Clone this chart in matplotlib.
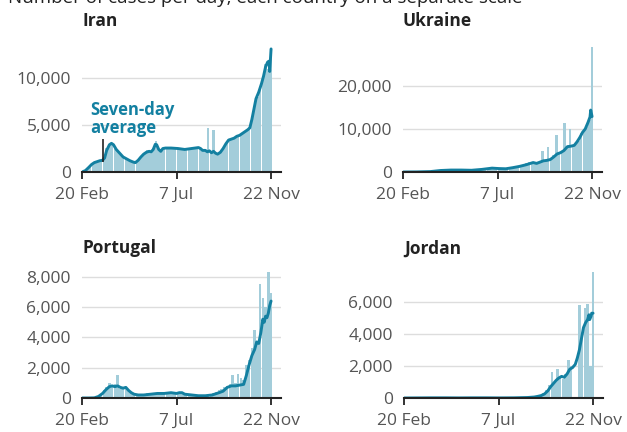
import numpy as np
import matplotlib
matplotlib.use("Agg")
import matplotlib.pyplot as plt

plt.rcParams["font.family"] = ["Open Sans", "DejaVu Sans"]

LINE_COLOR = "#1380A1"
BAR_COLOR = "#A3CDDA"
TEXT_GREY = "#555555"

TITLE = "Number of cases per day, each country on a separate scale"
TICK_DAYS = [0, 138, 276]
TICK_LABELS = ["20 Feb", "7 Jul", "22 Nov"]
BAR_STEP = 4  # days between bars

# daily cases, one value every 4 days starting 20 Feb
iran_daily = [0, 50, 300, 600, 1000, 1200, 1100, 1300, 1600, 2600,
              3000, 2900, 2500, 2200, 1800, 1500, 1400, 1300, 1100, 1000,
              1100, 1500, 1800, 2100, 2300, 2100, 2600, 3300, 2400, 2300,
              2600, 2500, 2600, 2500, 2600, 2400, 2500, 2400, 2300, 2400,
              2600, 2500, 2700, 2400, 2500, 2300, 4700, 2100, 4500, 2000,
              1900, 2300, 2800, 3300, 3500, 3600, 3700, 3900, 4000, 4300,
              4400, 4800, 5700, 7000, 8000, 8800, 9800, 11500, 11000, 13000]
ukraine_daily = [0, 0, 0, 0, 0, 20, 30, 50, 80, 100,
                 200, 250, 300, 350, 400, 450, 450, 500, 450, 500,
                 400, 450, 400, 450, 400, 400, 450, 500, 600, 700,
                 800, 900, 900, 1000, 850, 750, 800, 700, 800, 900,
                 1100, 1200, 1300, 1500, 1600, 2000, 2300, 2400, 2100, 1900,
                 2200, 5000, 2700, 5800, 3000, 3900, 8600, 4300, 4700, 11400,
                 5800, 9900, 6000, 6500, 7200, 9000, 9900, 10500, 12000, 29000]
portugal_daily = [0, 0, 0, 10, 20, 60, 120, 250, 500, 700,
                  1000, 700, 900, 1500, 600, 650, 700, 550, 350, 300,
                  250, 200, 200, 250, 300, 250, 300, 350, 300, 400,
                  350, 300, 350, 300, 400, 350, 300, 250, 200, 200,
                  250, 150, 200, 150, 200, 150, 200, 250, 300, 400,
                  500, 600, 700, 800, 900, 1500, 1000, 1600, 1300, 1200,
                  2200, 2500, 3300, 4500, 3700, 7500, 6600, 6000, 8300, 6900]
jordan_daily = [0, 0, 0, 0, 0, 5, 10, 20, 15, 10,
                10, 5, 5, 5, 5, 5, 5, 5, 5, 5,
                10, 10, 10, 10, 10, 15, 20, 10, 10, 10,
                5, 10, 10, 5, 5, 10, 10, 10, 20, 10,
                10, 15, 20, 30, 40, 40, 50, 80, 100, 150,
                200, 300, 500, 800, 1600, 1000, 1800, 1300, 1200, 1500,
                2400, 2000, 0, 0, 5800, 3800, 5600, 5900, 2000, 7900]

# seven-day average (day offset from 20 Feb, value)
iran_avg_days = [0, 5, 10, 14, 18, 22, 26, 30, 33, 36, 40, 43, 46, 50, 55, 60, 65, 70, 75, 78,
                 82, 86, 90, 94, 98, 101, 104, 107, 109, 112, 115, 118, 122, 130, 140, 150, 155,
                 160, 165, 170, 173, 176, 180, 183, 186, 189, 192, 195, 198, 202, 206, 210, 214,
                 218, 222, 226, 230, 234, 238, 242, 245, 248, 251, 254, 258, 262, 265, 268, 271,
                 273, 274, 276]
iran_avg = [0, 150, 500, 800, 1000, 1100, 1200, 1250, 1500, 2300, 2900, 3050, 2900, 2400, 2000,
            1600, 1400, 1200, 1050, 1000, 1250, 1600, 1900, 2100, 2200, 2150, 2400, 2950, 2900,
            2400, 2200, 2500, 2550, 2550, 2500, 2400, 2450, 2500, 2550, 2600, 2500, 2300, 2300,
            2150, 2250, 2050, 2200, 2000, 1900, 2100, 2500, 3000, 3400, 3500, 3600, 3800, 3900,
            4100, 4300, 4500, 4700, 5600, 6700, 7800, 8500, 9400, 10200, 11200, 11700, 11800,
            10700, 13100]
ukraine_avg_days = [0, 20, 40, 55, 70, 85, 100, 115, 130, 140, 150, 160, 170, 180, 190, 195, 200,
                    205, 210, 215, 220, 225, 230, 235, 240, 245, 250, 254, 258, 262, 266, 270, 273,
                    274, 276]
ukraine_avg = [0, 20, 100, 350, 450, 450, 400, 600, 900, 800, 750, 1000, 1300, 1700, 2200, 2000,
               2300, 2600, 2700, 2900, 3500, 4200, 4500, 5000, 5900, 6000, 6200, 7000, 8000, 9200,
               10000, 11500, 12800, 14400, 12900]
portugal_avg_days = [0, 10, 18, 24, 30, 35, 40, 44, 48, 52, 56, 60, 64, 68, 72, 76, 82, 90, 100,
                     110, 120, 130, 138, 142, 146, 150, 160, 170, 180, 190, 200, 206, 212, 218, 224,
                     230, 236, 240, 244, 248, 252, 255, 258, 261, 264, 266, 268, 270, 272, 274, 276]
portugal_avg = [0, 0, 10, 100, 300, 550, 750, 800, 750, 800, 700, 650, 700, 500, 350, 250, 200,
                200, 250, 300, 300, 350, 300, 350, 350, 250, 200, 150, 150, 200, 350, 450, 700, 800,
                800, 850, 900, 1500, 2200, 2800, 3200, 3700, 3600, 4300, 5200, 5000, 5400, 5300,
                5600, 6100, 6400]
jordan_avg_days = [0, 20, 40, 60, 80, 100, 120, 140, 160, 180, 190, 195, 200, 205, 210, 214, 218,
                   222, 226, 230, 234, 238, 242, 246, 250, 253, 256, 259, 262, 265, 268, 270, 271,
                   273, 274, 276]
jordan_avg = [0, 5, 10, 10, 5, 10, 10, 5, 10, 30, 60, 100, 150, 250, 450, 700, 900, 1100, 1250,
              1350, 1300, 1500, 1800, 1900, 2100, 2500, 3000, 3700, 4400, 4700, 4900, 5200, 4900,
              5100, 5300, 5300]

iran_yticks = [0, 5000, 10000]
ukraine_yticks = [0, 10000, 20000]
portugal_yticks = [0, 2000, 4000, 6000, 8000]
jordan_yticks = [0, 2000, 4000, 6000]


def draw_panel(fig, rect, name, title_y, daily, avg_days, avg, yticks, ymax):
    ax = fig.add_axes(rect)
    days = np.arange(len(daily)) * BAR_STEP
    ax.bar(days, daily, width=3.7, color=BAR_COLOR, edgecolor="none", zorder=1)
    ax.plot(avg_days, avg, color=LINE_COLOR, lw=2.1, solid_capstyle="round",
            solid_joinstyle="round", zorder=3)

    ax.set_xlim(0, 290.5)
    ax.set_ylim(0, ymax)
    ax.set_xticks(TICK_DAYS)
    ax.set_xticklabels(TICK_LABELS)
    ax.set_yticks(yticks)
    ax.set_yticklabels([f"{t:,}" for t in yticks])
    ax.tick_params(axis="x", length=5, width=1.3, color="#222222", pad=6,
                   labelsize=12.5, labelcolor=TEXT_GREY)
    ax.tick_params(axis="y", length=0, pad=8, labelsize=12.5, labelcolor=TEXT_GREY)
    for t in yticks[1:]:
        ax.axhline(t, color="#dddddd", lw=1, zorder=0)
    for s in ["top", "right", "left"]:
        ax.spines[s].set_visible(False)
    ax.spines["bottom"].set_color("#222222")
    ax.spines["bottom"].set_linewidth(1.5)
    ax.spines["bottom"].set_zorder(4)

    fig.text(rect[0], 1 - title_y / 432, name, fontsize=12.5, fontweight="bold",
             color="#222222", ha="left", va="center")
    return ax


fig = plt.figure(figsize=(6.27, 4.32), dpi=100)
# headline sits partly above the crop, as in the source image
fig.text(8 / 627, 1 - 3 / 432, TITLE, fontsize=13.5, color="#222222", ha="left", va="baseline")

w, h = 199 / 627, 132 / 432
top_b, bot_b = 260 / 432, 34 / 432
ax_iran = draw_panel(fig, [82 / 627, top_b, w, h], "Iran", 21,
                     iran_daily, iran_avg_days, iran_avg, iran_yticks, 14050)
draw_panel(fig, [403 / 627, top_b, w, h], "Ukraine", 21,
           ukraine_daily, ukraine_avg_days, ukraine_avg, ukraine_yticks, 30700)
draw_panel(fig, [82 / 627, bot_b, w, h], "Portugal", 248,
           portugal_daily, portugal_avg_days, portugal_avg, portugal_yticks, 8712)
draw_panel(fig, [404 / 627, bot_b, w, h], "Jordan", 249,
           jordan_daily, jordan_avg_days, jordan_avg, jordan_yticks, 8250)

# label for the seven-day average line
ax_iran.text(11.5, 5650, "Seven-day\naverage", color=LINE_COLOR, fontsize=12,
             fontweight="bold", ha="left", va="center", linespacing=1.0)
ax_iran.vlines(30, 1060, 3500, color="#222222", lw=1.2, zorder=4)

fig.savefig("out.png", dpi=100)
